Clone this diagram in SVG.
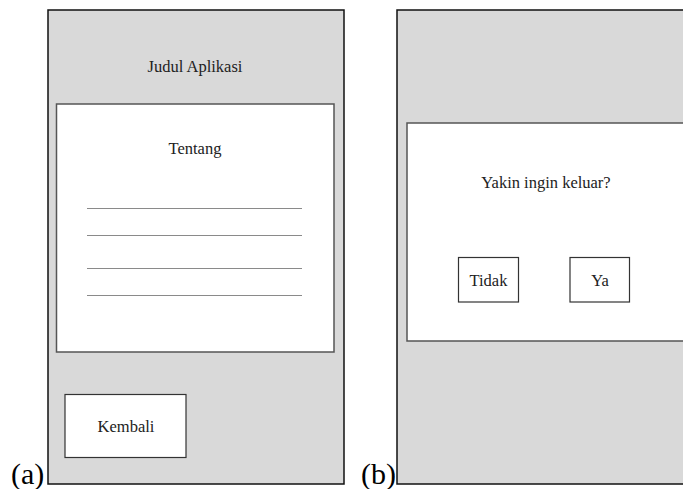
<svg xmlns="http://www.w3.org/2000/svg" width="683" height="489" viewBox="0 0 683 489">
  <style>
    .screen { fill: #d9d9d9; stroke: #111; stroke-width: 1.5; }
    .panel { fill: #ffffff; stroke: #555; stroke-width: 1.5; }
    .btn { fill: #ffffff; stroke: #333; stroke-width: 1.2; }
    .rule { stroke: #8a8a8a; stroke-width: 1; }
    .t { font-family: "Liberation Serif", "Times New Roman", serif; font-size: 16.5px; fill: #222; text-anchor: middle; }
    .cap { font-family: "Liberation Serif", "Times New Roman", serif; font-size: 30px; fill: #000; }
  </style>
  <rect width="683" height="489" fill="#ffffff"/>

  <!-- Screen (a): about page -->
  <g id="screen-a">
    <rect class="screen" x="48" y="10" width="296" height="474"/>
    <text class="t" x="195" y="72">Judul Aplikasi</text>
  </g>
  <g id="about-panel">
    <rect class="panel" x="56.5" y="104" width="277.5" height="248"/>
    <text class="t" x="195" y="154">Tentang</text>
    <line class="rule" x1="87" y1="208.5" x2="302" y2="208.5"/>
    <line class="rule" x1="87" y1="235.5" x2="302" y2="235.5"/>
    <line class="rule" x1="87" y1="268.5" x2="302" y2="268.5"/>
    <line class="rule" x1="87" y1="295.5" x2="302" y2="295.5"/>
  </g>
  <g id="btn-kembali">
    <rect class="btn" x="65" y="394.5" width="121" height="63"/>
    <text class="t" x="126" y="432">Kembali</text>
  </g>
  <text id="label-a" class="cap" x="11" y="484">(a)</text>

  <!-- Screen (b): exit confirmation -->
  <g id="screen-b">
    <rect class="screen" x="397" y="10" width="300" height="474"/>
  </g>
  <g id="exit-dialog">
    <rect class="panel" x="407" y="123" width="300" height="218"/>
    <text class="t" x="546" y="188">Yakin ingin keluar?</text>
  </g>
  <g id="btn-tidak">
    <rect class="btn" x="458.5" y="257.5" width="60" height="44.5"/>
    <text class="t" x="488.5" y="286">Tidak</text>
  </g>
  <g id="btn-ya">
    <rect class="btn" x="570" y="257.5" width="59.5" height="44.5"/>
    <text class="t" x="600" y="286">Ya</text>
  </g>
  <text id="label-b" class="cap" x="361" y="484">(b)</text>

  <g id="connectors"/>
</svg>
